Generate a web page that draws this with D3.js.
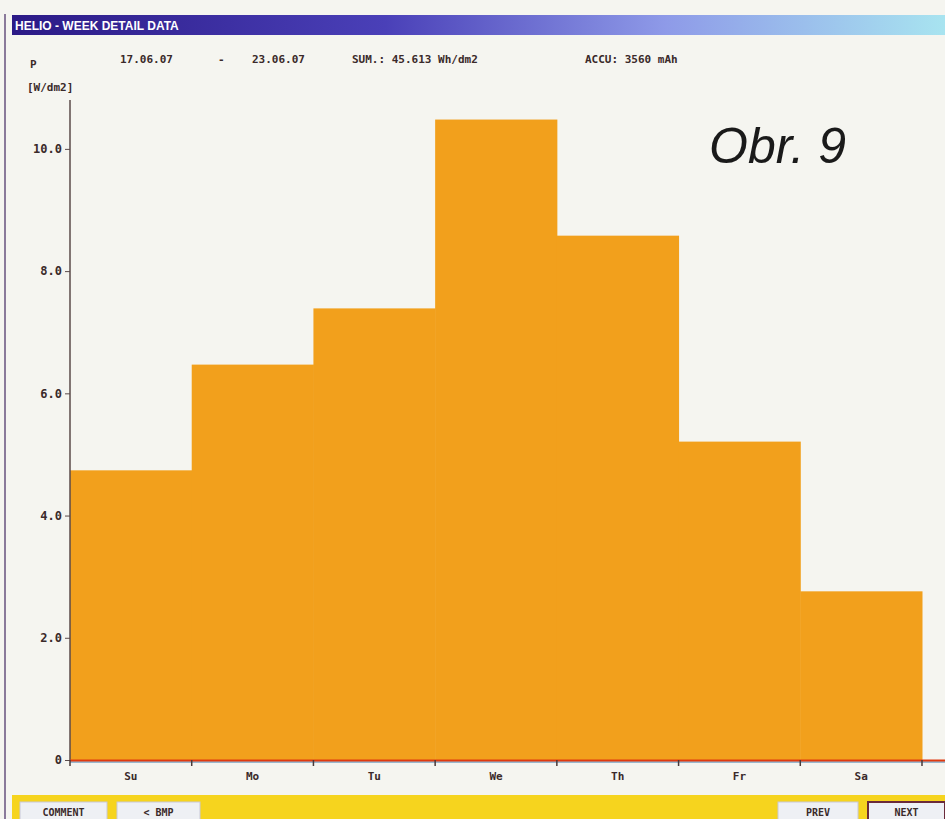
<!DOCTYPE html>
<html><head><meta charset="utf-8">
<script src="https://cdn.jsdelivr.net/npm/d3@7"></script>
<style>body{margin:0;background:#f5f5f0;}svg{display:block;}</style>
</head><body>
<svg id="c" width="945" height="819"></svg>
<script>
const days = ["Su","Mo","Tu","We","Th","Fr","Sa"];
const power = [4.74, 6.47, 7.39, 10.48, 8.58, 5.21, 2.76];
const yTicks = [0, 2, 4, 6, 8, 10];
const yTickLabels = ["0","2.0","4.0","6.0","8.0","10.0"];
const title = "HELIO - WEEK DETAIL DATA";
const infoItems = [["17.06.07",120],["-",218],["23.06.07",252],["SUM.: 45.613 Wh/dm2",352],["ACCU: 3560 mAh",585]];
const buttons = [["COMMENT",20,87],["< BMP",117,83],["PREV",778,80],["NEXT",868,77]];

const svg = d3.select("#c");
const defs = svg.append("defs");
const g1 = defs.append("linearGradient").attr("id","hdr");
g1.append("stop").attr("offset","0").attr("stop-color","#2b1a86");
g1.append("stop").attr("offset","0.4").attr("stop-color","#4a40b8");
g1.append("stop").attr("offset","0.7").attr("stop-color","#8e9ae8");
g1.append("stop").attr("offset","1").attr("stop-color","#a8e4f0");

svg.append("rect").attr("width",945).attr("height",819).attr("fill","#f5f5f0");
svg.append("line").attr("x1",5).attr("x2",5).attr("y1",14).attr("y2",819).attr("stroke","#8a7a9a").attr("stroke-width",2);
svg.append("rect").attr("x",12).attr("y",15).attr("width",933).attr("height",20).attr("fill","url(#hdr)");
svg.append("text").attr("x",15).attr("y",30).text(title)
  .attr("fill","#fff").attr("font-family","Liberation Sans Narrow, Arial Narrow, Liberation Sans, sans-serif")
  .attr("font-weight","bold").attr("font-size",12);

const small = (sel, fs=11) => sel.attr("font-family","DejaVu Sans Mono, monospace").attr("font-weight","bold").attr("font-size",fs).attr("fill","#3a2a2a");
small(svg.append("text").attr("x",30).attr("y",68).text("P"));
small(svg.append("text").attr("x",27).attr("y",91).text("[W/dm2]"));
infoItems.forEach(([t,x]) => small(svg.append("text").attr("x",x).attr("y",63).text(t)));

const x = d3.scaleBand().domain(days).range([70,922]).padding(0);
const y = d3.scaleLinear().domain([0,10.8]).range([760,100]);

svg.append("g").selectAll("rect").data(power).join("rect")
  .attr("x",(d,i)=>x(days[i])).attr("width",x.bandwidth()+0.5)
  .attr("y",d=>y(d)).attr("height",d=>y(0)-y(d)).attr("fill","#f2a01c");

// y axis
const ya = svg.append("g").attr("transform","translate(70,0)")
  .call(d3.axisLeft(y).tickValues(yTicks).tickSize(5).tickFormat((d,i)=>yTickLabels[i]));
ya.select(".domain").attr("stroke","#5a4a4a").attr("stroke-width",1.5).attr("d","M0,100V760");
ya.selectAll(".tick line").attr("stroke","#5a4a4a");
ya.selectAll(".tick text").attr("font-family","DejaVu Sans Mono, monospace").attr("font-weight","bold").attr("font-size",12).attr("fill","#3a2a2a").attr("x",-8);

// x axis
svg.append("line").attr("x1",70).attr("x2",945).attr("y1",762).attr("y2",762).attr("stroke","#9ab8d0").attr("stroke-width",2);
svg.append("line").attr("x1",70).attr("x2",945).attr("y1",760.5).attr("y2",760.5).attr("stroke","#e03a10").attr("stroke-width",2);
const edges = days.map(d=>x(d)).concat([x.range()[1]]);
svg.append("g").selectAll("line").data(edges).join("line")
  .attr("x1",d=>d).attr("x2",d=>d).attr("y1",760).attr("y2",766).attr("stroke","#4a3a3a").attr("stroke-width",1.5);
svg.append("g").selectAll("text").data(days).join("text")
  .attr("x",d=>x(d)+x.bandwidth()/2).attr("y",780).attr("text-anchor","middle").text(d=>d)
  .attr("font-family","DejaVu Sans Mono, monospace").attr("font-weight","bold").attr("font-size",11).attr("fill","#3a2a2a");

svg.append("text").attr("x",709).attr("y",163).text("Obr. 9")
  .attr("font-family","Liberation Sans, Arial, sans-serif").attr("font-style","italic").attr("font-size",50).attr("fill","#1a1a1a");

// bottom bar
svg.append("rect").attr("x",12).attr("y",795).attr("width",933).attr("height",24).attr("fill","#f6d41e");
buttons.forEach(([t,bx,bw],i) => {
  svg.append("rect").attr("x",bx).attr("y",802).attr("width",bw).attr("height",20)
    .attr("fill","#eef0f4").attr("stroke", i===3 ? "#6a2a3a" : "#c8c8d8").attr("stroke-width", i===3?2:1);
  small(svg.append("text").attr("x",bx+bw/2).attr("y",816).attr("text-anchor","middle").text(t), 10);
});
</script>
</body></html>
